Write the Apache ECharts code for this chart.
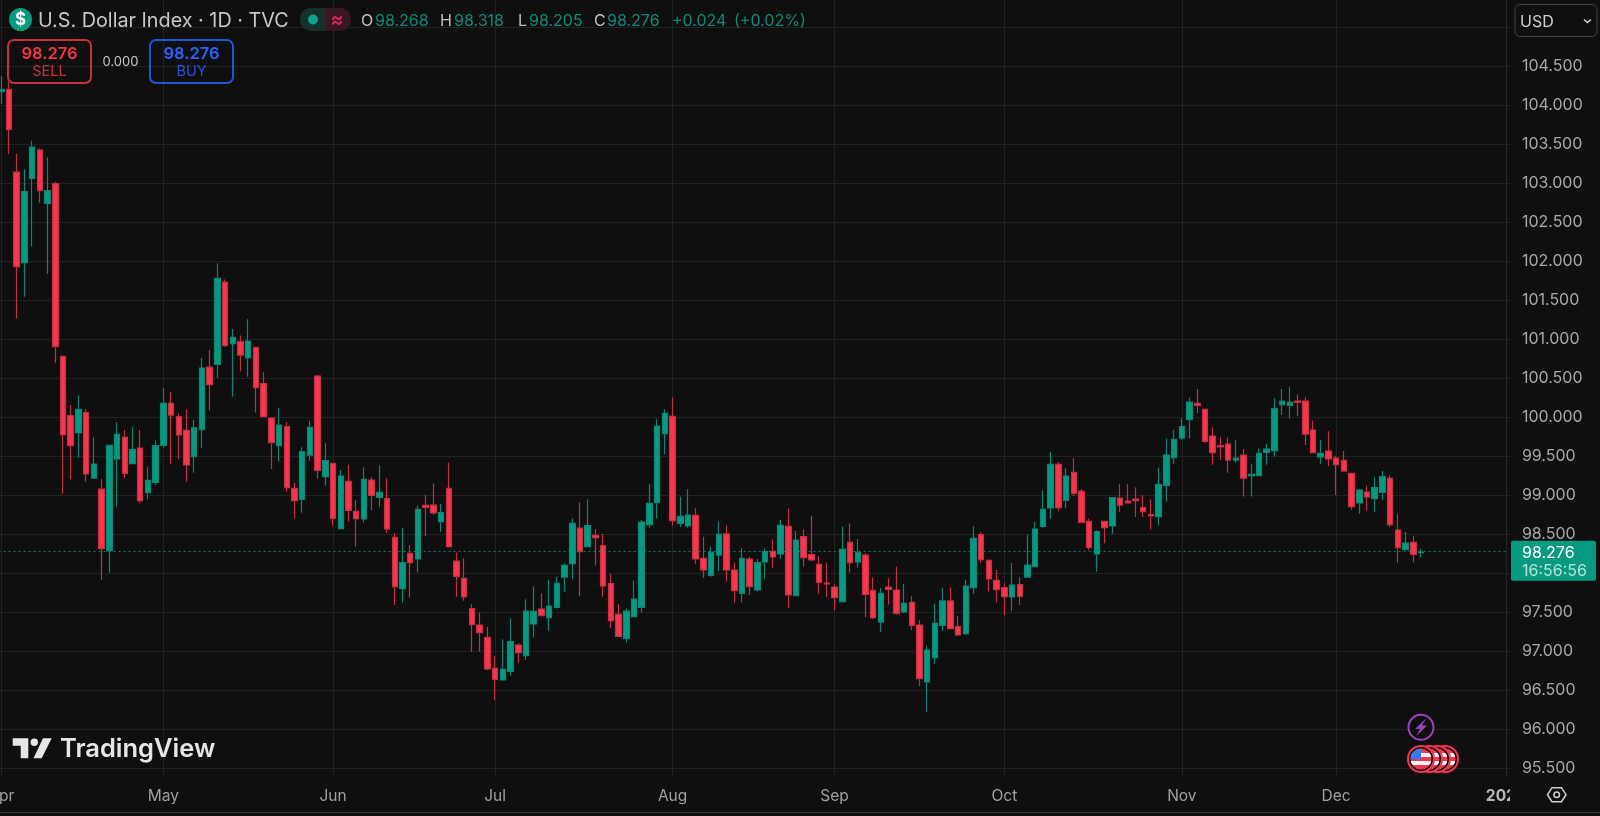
<!DOCTYPE html>
<html>
<head>
<meta charset="utf-8">
<title>U.S. Dollar Index</title>
<style>
  html, body { margin: 0; padding: 0; background: #0f0f0f; }
  #chart { width: 1600px; height: 816px; }
</style>
<script src="https://cdn.jsdelivr.net/npm/echarts@6/dist/echarts.min.js"></script>
</head>
<body>
<div id="chart"></div>
<script>
var opens = [104.177,104.207,103.147,101.985,103.066,103.43,102.745,102.998,100.784,100.024,
  99.806,100.062,99.224,99.083,98.293,99.468,99.746,99.408,99.609,99.036,
  99.169,99.643,100.182,100.011,99.836,99.498,99.844,100.647,100.682,101.733,
  100.947,100.972,100.767,100.9,100.434,99.994,99.639,99.883,99.092,98.951,
  99.519,100.532,99.242,99.412,98.575,99.182,98.797,98.699,99.199,98.977,
  98.959,98.464,97.806,98.258,98.186,98.874,98.878,98.665,99.092,98.16,
  97.938,97.549,97.34,97.182,96.784,96.635,96.746,97.083,96.947,97.353,
  97.545,97.434,97.566,97.955,98.126,98.583,98.344,98.49,98.357,97.87,
  97.476,97.169,97.447,97.566,98.626,98.908,99.793,100.015,98.643,98.613,
  98.746,98.195,97.977,98.237,98.507,98.045,97.746,98.186,97.789,98.148,
  98.284,98.25,98.605,97.716,98.472,98.242,98.118,97.878,97.827,97.639,
  98.4,98.148,98.237,97.784,97.378,97.827,97.789,97.507,97.631,97.34,
  96.609,96.921,97.336,97.648,97.319,97.229,97.819,98.498,98.169,97.913,
  97.819,97.699,97.857,97.955,98.088,98.605,98.84,99.4,98.938,99.297,
  99.054,98.669,98.25,98.669,98.609,98.968,98.93,98.955,98.844,98.754,
  98.729,99.13,99.485,99.737,99.972,100.182,100.105,99.763,99.639,99.66,
  99.455,99.519,99.254,99.254,99.553,99.575,100.165,100.156,100.212,100.212,
  99.84,99.494,99.571,99.481,99.451,99.284,98.904,99.045,98.959,99.041,
  99.22,98.558,98.306,98.4,98.268];
var closes = [104.207,103.694,101.934,102.895,103.468,102.908,102.908,100.908,99.78,99.639,
  100.105,99.276,99.404,98.318,99.643,99.784,99.284,99.588,98.934,99.195,
  99.639,100.182,100.032,99.776,99.391,99.87,100.635,100.421,101.784,100.921,
  101.028,100.801,100.981,100.383,100.011,99.677,99.904,99.1,98.934,99.562,
  99.874,99.323,99.447,98.707,99.25,98.81,98.703,99.207,99.002,99.041,
  98.571,97.831,98.139,98.139,98.823,98.848,98.776,98.78,98.344,97.964,
  97.699,97.344,97.242,96.776,96.643,96.771,97.126,96.985,97.519,97.515,
  97.46,97.583,97.874,98.105,98.643,98.28,98.613,98.46,97.84,97.395,
  97.194,97.519,97.673,98.66,98.9,99.891,100.054,98.678,98.733,98.75,
  98.186,98.045,98.272,98.502,98.045,97.78,98.195,97.831,98.139,98.28,
  98.212,98.618,97.725,98.43,98.203,98.173,97.887,97.866,97.69,98.31,
  98.139,98.272,97.733,97.434,97.746,97.797,97.49,97.618,97.336,96.652,
  97.019,97.361,97.648,97.293,97.212,97.84,98.451,98.178,97.93,97.793,
  97.703,97.853,97.708,98.109,98.571,98.823,99.4,98.844,99.25,99.028,
  98.656,98.336,98.537,98.588,98.972,98.878,98.904,98.934,98.793,98.741,
  99.143,99.519,99.72,99.883,100.199,100.156,99.694,99.549,99.622,99.455,
  99.481,99.224,99.271,99.541,99.596,100.113,100.212,100.199,100.194,99.788,
  99.549,99.541,99.468,99.395,99.314,98.857,99.071,98.981,99.1,99.241,
  98.626,98.331,98.391,98.245,98.276];
var lows = [104.019,103.378,101.271,101.549,102.19,102.754,101.84,100.703,99.024,99.207,
  99.485,99.178,99.22,97.92,98.01,98.857,99.22,99.405,98.9,98.951,
  99.139,99.609,99.4,99.464,99.178,99.293,99.613,100.092,100.511,100.908,
  100.267,100.592,100.523,100.062,100.01,99.34,99.442,99.049,98.703,98.78,
  99.447,99.216,99.126,98.613,98.57,98.665,98.344,98.656,98.814,98.857,
  98.519,97.596,97.626,97.69,98.019,98.481,98.754,98.536,98.34,97.703,
  97.652,96.998,96.998,96.76,96.38,96.626,96.694,96.857,96.891,97.182,
  97.455,97.267,97.553,97.767,97.925,97.711,98.34,98.101,97.703,97.301,
  97.186,97.113,97.44,97.498,98.588,98.703,99.532,98.613,98.601,98.588,
  98.122,97.943,97.96,98.032,97.896,97.626,97.631,97.725,97.772,97.934,
  98.075,98.19,97.558,97.71,98.088,98.16,97.742,97.699,97.532,97.63,
  98.011,98.075,97.438,97.417,97.255,97.601,97.478,97.49,97.276,96.558,
  96.22,96.84,97.267,97.29,97.203,97.216,97.742,98.139,97.772,97.631,
  97.468,97.519,97.596,97.95,98.085,98.587,98.703,98.806,98.836,98.994,
  98.65,98.302,98.024,98.387,98.511,98.789,98.9,98.725,98.724,98.566,
  98.618,98.921,99.408,99.716,99.737,100.058,99.673,99.395,99.455,99.293,
  99.421,98.989,98.989,99.25,99.395,99.498,100.032,99.989,100.019,99.647,
  99.545,99.404,99.378,99.006,99.31,98.818,98.767,98.806,98.793,98.947,
  98.596,98.139,98.3,98.143,98.205];
var highs = [104.378,104.305,103.378,103.182,103.549,103.451,103.335,103.023,100.79,100.16,
  100.284,100.105,99.746,99.207,99.65,99.938,99.84,99.883,99.84,99.37,
  99.707,100.383,100.331,100.053,100.105,99.972,100.763,100.865,101.977,101.771,
  101.135,101.053,101.259,100.9,100.579,100.0,100.118,99.938,99.165,99.618,
  99.96,100.545,99.669,99.42,99.327,99.395,98.942,99.361,99.233,99.387,
  99.22,98.519,98.588,98.365,98.87,99.011,99.156,98.895,99.421,98.271,
  98.195,97.605,97.498,97.318,96.947,97.156,97.425,97.105,97.669,97.835,
  97.746,97.917,97.96,98.13,98.707,98.912,98.951,98.571,98.506,97.994,
  97.609,97.549,97.908,98.686,99.143,99.977,100.109,100.254,98.985,99.079,
  98.836,98.472,98.344,98.669,98.618,98.139,98.323,98.216,98.186,98.323,
  98.438,98.686,98.836,98.549,98.566,98.737,98.225,98.139,97.87,98.601,
  98.643,98.443,98.259,97.951,97.814,97.938,98.088,97.866,97.712,97.4,
  97.075,97.609,97.814,97.823,97.455,97.921,98.605,98.532,98.18,98.045,
  97.874,98.135,97.951,98.498,98.661,99.062,99.562,99.43,99.349,99.481,
  99.084,98.703,98.554,98.675,98.98,99.143,99.143,99.105,99.002,98.951,
  99.357,99.729,99.84,99.989,100.254,100.365,100.11,99.874,99.746,99.741,
  99.712,99.596,99.404,99.6,99.66,100.246,100.365,100.395,100.297,100.259,
  99.959,99.712,99.823,99.511,99.571,99.285,99.083,99.126,99.233,99.314,
  99.259,98.763,98.532,98.48,98.318];

// bar number (in the arrays above) where each month starts
var monthBars = [0, 21, 43, 64, 87, 108, 130, 153, 173, 195];
var monthLabels = ["Apr", "May", "Jun", "Jul", "Aug", "Sep", "Oct", "Nov", "Dec", "2026"];

var gridTicks = [95.5, 96, 96.5, 97, 97.5, 98, 98.5, 99, 99.5, 100, 100.5, 101, 101.5, 102, 102.5, 103, 103.5, 104, 104.5, 105];
var tickLabels = [95.5, 96, 96.5, 97, 97.5, 98.5, 99, 99.5, 100, 100.5, 101, 101.5, 102, 102.5, 103, 103.5, 104, 104.5];
var lastPrice = 98.276;

var RED = "#f7374f";
var GREEN = "#089981";
var FONT = "Inter, 'Noto Sans', sans-serif";

// one empty slot in front so the first bar is not cut at the edge of the grid
var slots = [];
for (var s = 0; s < 197; s++) slots.push("b" + (s - 1));
function monthOfSlot(i) { return monthBars.indexOf(i - 1); }

var candles = ["-"];
opens.forEach(function(o, i) {
  candles.push([o, closes[i], lows[i], highs[i]]);
});

function txt(x, y, text, fill, size, extra) {
  var style = { x: x, y: y, text: text, fill: fill, fontSize: size, fontFamily: FONT, verticalAlign: "middle", align: "left" };
  for (var k in (extra || {})) style[k] = extra[k];
  return { type: "text", z: 20, style: style };
}
function box(x, y, w, h, r, fill, stroke, lw, z) {
  return { type: "rect", z: z || 19, shape: { x: x, y: y, width: w, height: h, r: r }, style: { fill: fill, stroke: stroke, lineWidth: lw || 0 } };
}
function flagCoin(cx, cy, front) {
  var stripes = [];
  for (var n = 0; n < 5; n++) {
    var c = n % 2 === 0 ? "#f7374f" : "#f5f5f5";
    stripes.push({ offset: n / 5, color: c }, { offset: (n + 1) / 5, color: c });
  }
  var out = [
    { type: "circle", z: 21, shape: { cx: cx, cy: cy, r: 13 }, style: { fill: "#0f0f0f", stroke: RED, lineWidth: 2 } },
    { type: "circle", z: 21, shape: { cx: cx, cy: cy, r: 10.5 }, style: { fill: { type: "linear", x: 0, y: 0, x2: 0, y2: 1, colorStops: stripes } } }
  ];
  if (front) {
    out.push({ type: "sector", z: 21, shape: { cx: cx, cy: cy, r: 10.5, r0: 0, startAngle: Math.PI, endAngle: Math.PI * 1.5 }, style: { fill: "#2f7df0" } });
  }
  return out;
}

var graphics = [
  // hides the part of the year label that runs under the price scale
  box(1510, 778, 90, 33, 0, "#0f0f0f", null, 0, 10),

  // header
  { type: "circle", z: 20, shape: { cx: 20.5, cy: 19.5, r: 11.5 }, style: { fill: GREEN } },
  txt(20.5, 20, "$", "#ffffff", 17, { align: "center", fontWeight: "bold" }),
  txt(38, 21, "U.S. Dollar Index · 1D · TVC", "#c8c8c8", 19.8),
  box(300, 8, 26, 23, [11, 0, 0, 11], "#16302b"),
  box(326, 8, 25, 23, [0, 11, 11, 0], "#3a1522"),
  { type: "circle", z: 20, shape: { cx: 313, cy: 19.5, r: 5 }, style: { fill: "#0ea58c" } },
  txt(337, 20, "≈", "#d42a5a", 19, { align: "center", fontWeight: "bold" }),
  txt(361, 21, "O", "#c0c0c0", 16),
  txt(375, 21, "98.268", "#0f8a75", 16),
  txt(440, 21, "H", "#c0c0c0", 16),
  txt(454, 21, "98.318", "#0f8a75", 16),
  txt(518, 21, "L", "#c0c0c0", 16),
  txt(529, 21, "98.205", "#0f8a75", 16),
  txt(594, 21, "C", "#c0c0c0", 16),
  txt(607, 21, "98.276", "#0f8a75", 16),
  txt(672, 21, "+0.024", "#0f8a75", 16),
  txt(734, 21, "(+0.02%)", "#0f8a75", 16),

  // sell / buy
  box(8, 40, 83, 43, 6, "transparent", "#c9303f", 2),
  txt(49.5, 54, "98.276", "#f23645", 16.5, { align: "center", fontWeight: 600 }),
  txt(49.5, 72, "SELL", "#c9303f", 14.5, { align: "center" }),
  txt(120.5, 62, "0.000", "#c8c8c8", 13, { align: "center" }),
  box(150, 40, 83, 43, 6, "transparent", "#2353d8", 2),
  txt(191.5, 54, "98.276", "#2962ff", 16.5, { align: "center", fontWeight: 600 }),
  txt(191.5, 72, "BUY", "#2353d8", 14.5, { align: "center" }),

  // currency box
  box(1515, 4.5, 82, 32, 5, "#0f0f0f", "#444444", 1),
  txt(1520, 22, "USD", "#d0d0d0", 16),
  { type: "polyline", z: 20, shape: { points: [[1584, 19.5], [1587.5, 22.5], [1591, 19.5]] }, style: { fill: null, stroke: "#d0d0d0", lineWidth: 1.5 } },

  // last price tag
  box(1511, 540.7, 85, 40, 2, GREEN),
  txt(1522, 553, "98.276", "#ffffff", 16),
  txt(1522, 571, "16:56:56", "#b5e3da", 16),

  // watermark
  { type: "polygon", z: 20, shape: { points: [[12.7, 738.3], [28.3, 738.3], [28.3, 758.3], [20.7, 758.3], [20.7, 745.7], [12.7, 745.7]] }, style: { fill: "#e6e6e6" } },
  { type: "circle", z: 20, shape: { cx: 34.3, cy: 742.3, r: 3.7 }, style: { fill: "#e6e6e6" } },
  { type: "polygon", z: 20, shape: { points: [[43, 738.3], [51.7, 738.3], [41.7, 758.3], [33.5, 758.3]] }, style: { fill: "#e6e6e6" } },
  txt(60, 749.5, "TradingView", "#e6e6e6", 25.5, { fontWeight: 600 }),

  // events
  { type: "circle", z: 21, shape: { cx: 1421, cy: 727.3, r: 12.5 }, style: { fill: "#0f0f0f", stroke: "#a040c0", lineWidth: 2 } },
  { type: "polygon", z: 21, shape: { points: [[1426, 718.5], [1415, 729], [1420, 729], [1416.5, 736], [1427, 725.5], [1422, 725.5]] }, style: { fill: "#a040c0" } },

  // settings
  { type: "polygon", z: 20, shape: { points: [[1547.5, 794.7], [1552, 787.7], [1561.5, 787.7], [1566, 794.7], [1561.5, 801.7], [1552, 801.7]] }, style: { fill: null, stroke: "#d0d0d0", lineWidth: 1.5 } },
  { type: "circle", z: 20, shape: { cx: 1556.7, cy: 794.7, r: 2.8 }, style: { fill: null, stroke: "#d0d0d0", lineWidth: 1.5 } },

  // bottom edge
  { type: "line", z: 20, shape: { x1: 0, y1: 812.5, x2: 1600, y2: 812.5 }, style: { stroke: "#3a3a3a", lineWidth: 1 } }
];
graphics = graphics
  .concat(flagCoin(1445, 759, false))
  .concat(flagCoin(1437, 759, false))
  .concat(flagCoin(1429, 759, false))
  .concat(flagCoin(1421, 759, true));

var chart = echarts.init(document.getElementById("chart"));
chart.setOption({
  animation: false,
  backgroundColor: "#0f0f0f",
  grid: { left: -6.416, top: 0, width: 1512.3, height: 776, containLabel: false, outerBoundsMode: "none" },
  xAxis: {
    type: "category",
    data: slots,
    boundaryGap: false,
    axisLine: { show: false },
    axisTick: { show: false },
    axisLabel: {
      interval: function(i) { return monthOfSlot(i) >= 0; },
      formatter: function(v, i) {
        var m = monthOfSlot(i);
        if (m < 0) return "";
        return monthLabels[m] === "2026" ? "{year|2026}" : monthLabels[m];
      },
      color: "#a0a0a0",
      fontSize: 15.5,
      fontFamily: FONT,
      margin: 12,
      hideOverlap: false,
      rich: { year: { color: "#b8b8b8", fontSize: 15.5, fontWeight: "bold", fontFamily: FONT } }
    },
    splitLine: {
      show: true,
      interval: function(i) { return monthOfSlot(i) >= 0; },
      lineStyle: { color: "#222222", width: 1 }
    }
  },
  yAxis: {
    type: "value",
    position: "right",
    min: 95.404,
    max: 105.353,
    axisLine: { show: true, lineStyle: { color: "#262626" } },
    axisTick: { show: true, length: 4, customValues: gridTicks, lineStyle: { color: "#222222" } },
    axisLabel: {
      customValues: tickLabels,
      formatter: function(v) { return v.toFixed(3); },
      color: "#a8a8a8",
      fontSize: 16,
      fontFamily: FONT,
      margin: 16,
      padding: [2, 0, 0, 0],
      align: "left"
    },
    splitLine: { show: true, lineStyle: { color: "#222222", width: 1 } }
  },
  series: [{
    type: "candlestick",
    data: candles,
    barWidth: 6,
    itemStyle: {
      color: GREEN,
      color0: RED,
      borderColor: "#0b8672",
      borderColor0: "#c42f42",
      borderWidth: 1.2
    },
    markLine: {
      silent: true,
      symbol: "none",
      animation: false,
      label: { show: false },
      lineStyle: { color: GREEN, type: [2, 3], width: 1.2, opacity: 0.8 },
      data: [{ yAxis: lastPrice }]
    }
  }],
  graphic: { elements: graphics }
});
</script>
</body>
</html>
